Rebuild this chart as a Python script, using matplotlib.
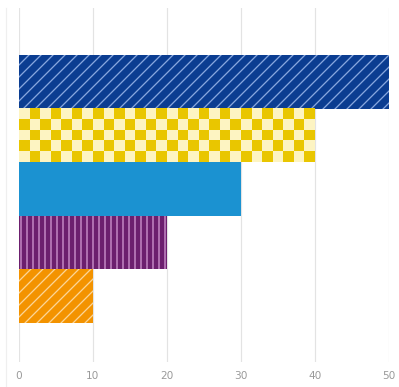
import numpy as np
import matplotlib
matplotlib.use("Agg")
import matplotlib.pyplot as plt
from matplotlib.lines import Line2D

# ---- data ------------------------------------------------------------------
categories = ["A", "B", "C", "D", "E"]          # top to bottom
values = [50, 40, 30, 20, 10]
fill_colors = ["#0b3d91", "#e9c600", "#1b92d1", "#6c1f6e", "#f39300"]
hatch_colors = ["#86a6de", None, None, "#d39ad3", "#fbd596"]
hatches = ["//", None, None, "||", "//"]
checker_light = "#fdf4c2"
xticks = [0, 10, 20, 30, 40, 50]

DPI = 72
plt.rcParams["hatch.linewidth"] = 1.3

fig = plt.figure(figsize=(399 / DPI, 387 / DPI), dpi=DPI)
ax = fig.add_axes([19 / 399, 25 / 387, 370 / 399, 354 / 387])

n = len(values)
ypos = np.arange(n)[::-1]  # first category on top

for y, v, fc, hc, h in zip(ypos, values, fill_colors, hatch_colors, hatches):
    if h:
        ax.barh(y, v, height=1.0, color=fc, edgecolor=hc, hatch=h, linewidth=0, zorder=2)
    else:
        ax.barh(y, v, height=1.0, color=fc, linewidth=0, zorder=2)

# checkerboard fill for the second bar
i = 1
rows, cols = 5, 28
checker = 1 - (np.indices((rows, cols)).sum(axis=0) % 2)
cmap = matplotlib.colors.ListedColormap([fill_colors[i], checker_light])
ax.imshow(checker, cmap=cmap, extent=(0, values[i], ypos[i] - 0.5, ypos[i] + 0.5),
          aspect="auto", interpolation="nearest", zorder=3)

ax.set_xlim(0, 50)
ax.set_ylim(-0.5 - 0.728, n - 0.5 + 0.877)
ax.set_xticks(xticks)
ax.set_yticks([])
ax.grid(axis="x", color="#e3e3e3", linewidth=1.2, zorder=0)
ax.set_axisbelow(True)
for s in ax.spines.values():
    s.set_visible(False)
ax.tick_params(axis="x", length=0, pad=9, labelsize=10.5, labelcolor="#9a9a9a")

# faint frame line on the left
fig.add_artist(Line2D([6 / 399, 6 / 399], [0, 379 / 387], color="#efefef", lw=1.2))

fig.savefig("out.png", dpi=DPI)
